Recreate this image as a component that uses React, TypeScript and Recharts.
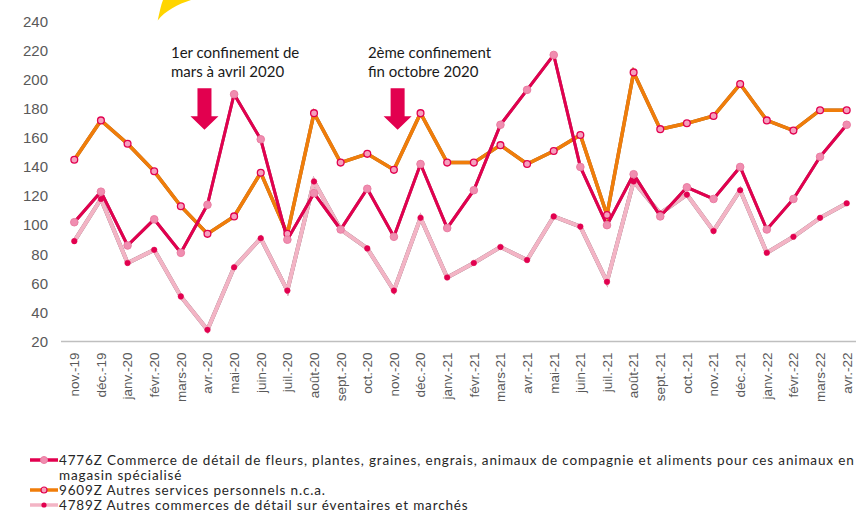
import React from "react";
import { LineChart, Line, XAxis, YAxis, ReferenceDot } from "recharts";

const months = [
  "nov.-19", "déc.-19", "janv.-20", "févr.-20", "mars-20", "avr.-20", "mai-20", "juin-20",
  "juil.-20", "août-20", "sept.-20", "oct.-20", "nov.-20", "déc.-20", "janv.-21", "févr.-21",
  "mars-21", "avr.-21", "mai-21", "juin-21", "juil.-21", "août-21", "sept.-21", "oct.-21",
  "nov.-21", "déc.-21", "janv.-22", "févr.-22", "mars-22", "avr.-22",
];

// 4776Z fleurs, plantes...
const fleurs = [102, 123, 86, 104, 81, 114, 190, 159, 90, 122, 97, 125, 92, 142, 98, 124, 169, 193, 217, 140, 100, 135, 106, 126, 118, 140, 97, 118, 147, 169];
// 9609Z autres services personnels
const services = [145, 172, 156, 137, 113, 94, 106, 136, 94, 177, 143, 149, 138, 177, 143, 143, 155, 142, 151, 162, 107, 205, 166, 170, 175, 197, 172, 165, 179, 179];
// 4789Z éventaires et marchés
const marches = [89, 118, 74, 83, 51, 28, 71, 91, 55, 130, 97, 84, 55, 105, 64, 74, 85, 76, 106, 99, 61, 130, 108, 121, 96, 124, 81, 92, 105, 115];

const yTicks = [20, 40, 60, 80, 100, 120, 140, 160, 180, 200, 220, 240];

const legendItems = [
  { key: "fleurs", label: "4776Z Commerce de détail de fleurs, plantes, graines, engrais, animaux de compagnie et aliments pour ces animaux en", label2: "magasin spécialisé" },
  { key: "services", label: "9609Z Autres services personnels n.c.a." },
  { key: "marches", label: "4789Z Autres commerces de détail sur éventaires et marchés" },
];

const data = months.map((m, i) => ({
  month: m,
  fleurs: fleurs[i],
  services: services[i],
  marches: marches[i],
}));

const CRIMSON = "#E2004F";
const ORANGE = "#F07D0A";
const PALE = "#F3B4C5";
const PINK = "#F08DB0";

function MonthTick({ x, y, payload }: any) {
  const ty = y + 9;
  return (
    <text
      x={x}
      y={ty}
      transform={`rotate(-90 ${x} ${ty})`}
      textAnchor="end"
      dy="0.36em"
      fill="#595959"
      fontSize={13.5}
      fontFamily="Liberation Sans, Arial, sans-serif"
    >
      {payload.value}
    </text>
  );
}

function arrowShape(dx: number, lines: string[], textDx: number) {
  return (props: any) => {
    const cx = props.cx + dx;
    const cy = props.cy;
    const pts = [
      [cx - 7, cy - 20.5],
      [cx + 7, cy - 20.5],
      [cx + 7, cy + 7.5],
      [cx + 14, cy + 7.5],
      [cx, cy + 21],
      [cx - 14, cy + 7.5],
      [cx - 7, cy + 7.5],
    ]
      .map((p) => p.join(","))
      .join(" ");
    return (
      <g>
        <polygon points={pts} fill={CRIMSON} />
        {lines.map((t, i) => (
          <text
            key={i}
            x={cx + textDx}
            y={cy - 50.5 + i * 18.4}
            fontSize={15}
            fontFamily="Lato, 'Noto Sans', sans-serif"
            fill="#1a1a1a"
          >
            {t}
          </text>
        ))}
      </g>
    );
  };
}

function LegendIcon({ k }: { k: string }) {
  const line = k === "fleurs" ? CRIMSON : k === "services" ? ORANGE : PALE;
  return (
    <svg width={28} height={10} style={{ display: "block" }}>
      <line x1={0} y1={5} x2={28} y2={5} stroke={line} strokeWidth={3.5} />
      {k === "fleurs" && <circle cx={14} cy={5} r={3.5} fill={PINK} stroke="#EA7DA2" />}
      {k === "services" && <circle cx={14} cy={5} r={3} fill="#F5A0BE" stroke={CRIMSON} strokeWidth={1.2} />}
      {k === "marches" && <circle cx={14} cy={5} r={2.6} fill={CRIMSON} />}
    </svg>
  );
}

export default function App() {
  const rowTops = [460, 490, 505];
  return (
    <div style={{ position: "absolute", left: 0, top: 0, width: 856, height: 512, background: "#fff", overflow: "hidden" }}>
      <style>{`
        .s-marches path.recharts-line-curve { filter: drop-shadow(0 0 0.6px rgba(110,80,90,0.9)); }
        .s-services path.recharts-line-curve { filter: drop-shadow(0 0 0.5px rgba(120,60,0,0.8)); }
        .s-fleurs path.recharts-line-curve { filter: drop-shadow(0 0 0.5px rgba(100,0,30,0.7)); }
      `}</style>
      <svg width={856} height={30} style={{ position: "absolute", left: 0, top: 0 }}>
        <path d="M157.7,20.5 C159.5,12 161,5 163,0 L191,0 C178,4 165,11 157.7,20.5 Z" fill="#FFD500" />
      </svg>
      <LineChart
        width={856}
        height={512}
        data={data}
        margin={{ top: 21.5, right: 0, bottom: 100.5, left: 0 }}
      >
        <XAxis
          dataKey="month"
          interval={0}
          height={70}
          padding={{ left: 13.3, right: 9.3 }}
          tickLine={false}
          tickSize={0}
          axisLine={{ stroke: "#BFBFBF", strokeWidth: 1.5 }}
          tick={<MonthTick />}
        />
        <YAxis
          domain={[20, 240]}
          ticks={yTicks}
          width={61}
          axisLine={false}
          tickLine={false}
          tickSize={0}
          tickMargin={13}
          tick={{ fill: "#595959", fontSize: 15, fontFamily: "Liberation Sans, Arial, sans-serif" }}
        />
        <Line
          className="s-marches"
          dataKey="marches"
          stroke={PALE}
          strokeWidth={4}
          dot={{ r: 2.8, fill: CRIMSON, stroke: CRIMSON, strokeWidth: 0.5 }}
          isAnimationActive={false}
        />
        <Line
          className="s-services"
          dataKey="services"
          stroke={ORANGE}
          strokeWidth={3.5}
          dot={{ r: 3.4, fill: "#F5A0BE", stroke: CRIMSON, strokeWidth: 1.3 }}
          isAnimationActive={false}
        />
        <Line
          className="s-fleurs"
          dataKey="fleurs"
          stroke={CRIMSON}
          strokeWidth={3}
          dot={{ r: 3.8, fill: PINK, stroke: "#EA7DA2", strokeWidth: 1 }}
          isAnimationActive={false}
        />
        <ReferenceDot x="avr.-20" y={180} r={0} shape={arrowShape(-3, ["1er confinement de", "mars à avril 2020"], -33.5)} />
        <ReferenceDot x="nov.-20" y={180} r={0} shape={arrowShape(3.7, ["2ème confinement", "fin octobre 2020"], -29.7)} />
      </LineChart>
      {legendItems.map((it, i) => (
        <div
          key={it.key}
          style={{
            position: "absolute",
            left: 30,
            top: rowTops[i] - 7.5,
            display: "flex",
            alignItems: "flex-start",
            fontFamily: "Lato, 'Noto Sans', sans-serif",
            fontSize: 13.5,
            letterSpacing: 0.85,
            lineHeight: "15.5px",
            color: "#262626",
            whiteSpace: "nowrap",
          }}
        >
          <div style={{ paddingTop: 2.5 }}>
            <LegendIcon k={it.key} />
          </div>
          <div style={{ marginLeft: 1 }}>
            {it.label}
            {it.label2 && (
              <>
                <br />
                {it.label2}
              </>
            )}
          </div>
        </div>
      ))}
    </div>
  );
}
